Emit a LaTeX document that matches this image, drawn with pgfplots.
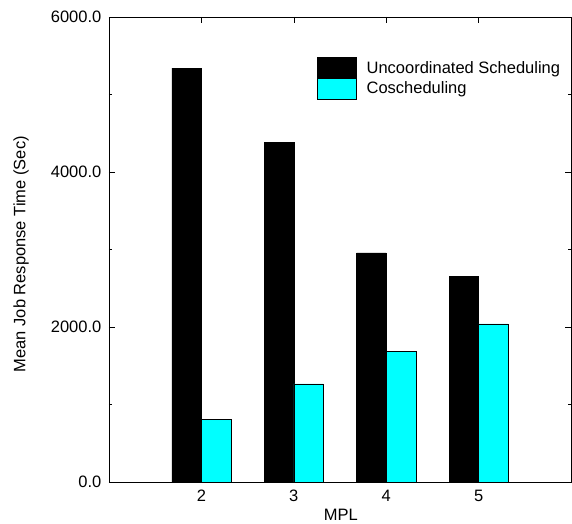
\documentclass[border=0pt]{standalone}
\usepackage{fontspec}
\setmainfont{Liberation Sans}
\usepackage{pgfplots}
\pgfplotsset{compat=1.18}
\definecolor{aqua}{RGB}{0,255,255}
\begin{document}
\fontsize{16.5bp}{19bp}\selectfont
\begin{tikzpicture}
\begin{axis}[
  name=ax,
  scale only axis,
  width=462bp, height=465bp,
  xmin=1, xmax=6, ymin=0, ymax=6000,
  enlargelimits=false,
  ybar=0pt, bar width=0.32,
  axis line style={line width=0.8bp},
  tick style={line width=0.6bp, black},
  tick align=inside,
  major tick length=6bp, minor tick length=3bp,
  xtick={2,3,4,5}, xticklabels={2,3,4,5},
  ytick={0,2000,4000,6000}, yticklabels={0.0,2000.0,4000.0,6000.0},
  minor ytick={1000,3000,5000},
  xticklabel style={yshift=-2bp},
  yticklabel style={xshift=-2bp},
  xlabel={MPL}, ylabel={Mean Job Response Time (Sec)},
  xlabel style={at={(axis description cs:0.502,-0.071)}, anchor=center},
  ylabel style={at={(axis description cs:-0.19,0.49)}, anchor=center},
  legend style={draw=none, fill=none, inner sep=0pt, row sep=-1bp,
    at={(rel axis cs:0.450,0.914)}, anchor=north west,
    nodes={inner sep=0pt}, font=\fontsize{16.5bp}{19bp}\selectfont},
  legend cell align=left,
  legend image code/.code={\draw[#1] (0bp,-10bp) rectangle (39bp,11bp); \path (49bp,0bp);},
]
\addplot[fill=black, draw=black, line width=0.5bp] coordinates {(2,5340) (3,4380) (4,2955) (5,2655)};
\addplot[fill=aqua, draw=black, line width=0.5bp] coordinates {(2,810) (3,1265) (4,1690) (5,2040)};
\legend{Uncoordinated Scheduling, Coscheduling}
\end{axis}
\pgfresetboundingbox
\path ([shift={(-109bp,-42bp)}]ax.south west) rectangle ([shift={(1bp,17bp)}]ax.north east);
\end{tikzpicture}
\end{document}
